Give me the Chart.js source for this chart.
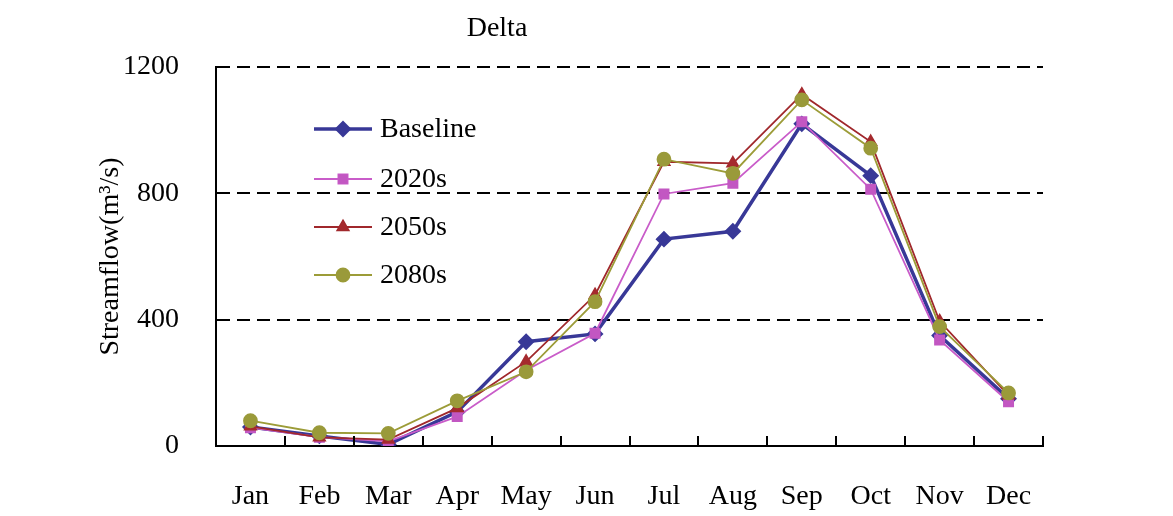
<!DOCTYPE html>
<html>
<head>
<meta charset="utf-8">
<script src="https://cdn.jsdelivr.net/npm/chart.js@4/dist/chart.umd.min.js"></script>
<style>
  html, body { margin: 0; padding: 0; background: #fff; }
  #wrap { width: 1173px; height: 516px; }
</style>
</head>
<body>
<div id="wrap"><canvas id="chart" width="1173" height="516"></canvas></div>
<script>
// monthly streamflow, Delta station (m3/s)
const months = ['Jan', 'Feb', 'Mar', 'Apr', 'May', 'Jun', 'Jul', 'Aug', 'Sep', 'Oct', 'Nov', 'Dec'];
const baseline = [60, 32, 5, 108, 330, 355, 655, 680, 1020, 856, 350, 150];
const s2020 = [58, 28, 15, 93, 240, 357, 798, 832, 1027, 813, 336, 140];
const s2050 = [62, 27, 20, 120, 267, 478, 900, 895, 1113, 963, 395, 160];
const s2080 = [80, 42, 40, 143, 235, 457, 908, 863, 1096, 943, 378, 168];
const yTicks = [0, 400, 800, 1200];

const serif = 'Liberation Serif, Times New Roman, serif';

// legend drawn inside the plot, top-left, plus the title and inward x ticks
const extras = {
  id: 'extras',
  afterDraw(chart) {
    const c = chart.ctx;
    const x = chart.scales.x;
    const area = chart.chartArea;
    c.save();

    // inward tick marks on the category boundaries
    c.strokeStyle = '#000';
    c.lineWidth = 2;
    for (let i = 0; i < months.length; i++) {
      const px = Math.round(x.getPixelForValue(i + 0.5));
      c.beginPath();
      c.moveTo(px, area.bottom);
      c.lineTo(px, area.bottom - 10);
      c.stroke();
    }

    c.fillStyle = '#000';
    c.font = '28px ' + serif;
    c.textAlign = 'center';
    c.textBaseline = 'middle';
    c.fillText('Delta', 497, 29);

    // legend
    const rows = [129, 179, 227, 275];
    chart.data.datasets.forEach((ds, i) => {
      const y = rows[i];
      c.strokeStyle = ds.borderColor;
      c.lineWidth = ds.borderWidth;
      c.beginPath();
      c.moveTo(314, y);
      c.lineTo(372, y);
      c.stroke();
      Chart.helpers.drawPoint(c, {
        pointStyle: ds.pointStyle,
        radius: ds.pointRadius,
        rotation: 0,
        borderWidth: 1
      }, 343, y);
      c.fillStyle = ds.pointBackgroundColor;
      c.strokeStyle = ds.pointBorderColor;
      c.fill();
      c.fillStyle = '#000';
      c.textAlign = 'left';
      c.fillText(ds.label, 380, y + 1);
    });
    c.restore();
  }
};

new Chart(document.getElementById('chart'), {
  type: 'line',
  data: {
    labels: months,
    datasets: [
      { label: 'Baseline', data: baseline, borderColor: '#383897', borderWidth: 3.5,
        pointStyle: 'rectRot', pointRadius: 6, pointBackgroundColor: '#383897', pointBorderColor: '#383897', order: 4 },
      { label: '2020s', data: s2020, borderColor: '#c95cc9', borderWidth: 1.8,
        pointStyle: 'rect', pointRadius: 6.5, pointBackgroundColor: '#c257c2', pointBorderColor: '#c257c2', order: 3 },
      { label: '2050s', data: s2050, borderColor: '#a0282c', borderWidth: 1.8,
        pointStyle: 'triangle', pointRadius: 6.5, pointBackgroundColor: '#a52a2e', pointBorderColor: '#a52a2e', order: 2 },
      { label: '2080s', data: s2080, borderColor: '#9c9c38', borderWidth: 1.8,
        pointStyle: 'circle', pointRadius: 6.5, pointBackgroundColor: '#9a9a3a', pointBorderColor: '#9a9a3a', order: 1 }
    ]
  },
  options: {
    responsive: false,
    animation: false,
    layout: { padding: { left: 93, right: 130, top: 67, bottom: 0 } },
    plugins: { legend: { display: false }, tooltip: { enabled: false } },
    elements: { line: { tension: 0 } },
    scales: {
      x: {
        offset: true,
        grid: { display: false, drawTicks: false },
        border: { color: '#000', width: 2 },
        ticks: { color: '#000', font: { family: serif, size: 28 }, padding: 34 },
        afterFit: s => { s.height = 70; }
      },
      y: {
        min: 0, max: 1200,
        afterBuildTicks: s => { s.ticks = yTicks.map(v => ({ value: v })); },
        grid: {
          drawTicks: false,
          color: ctx => ctx.tick && ctx.tick.value === 0 ? 'rgba(0,0,0,0)' : '#000',
          lineWidth: 2
        },
        border: { color: '#000', width: 2, dash: [13, 7] },
        ticks: { color: '#000', font: { family: serif, size: 28 }, padding: 37,
          callback: v => String(v) },
        title: { display: true, text: 'Streamflow(m³/s)', color: '#000',
          font: { family: serif, size: 28 }, padding: { top: 1, bottom: 0 } },
        afterFit: s => { s.width = 123; }
      }
    }
  },
  plugins: [extras]
});
</script>
</body>
</html>
